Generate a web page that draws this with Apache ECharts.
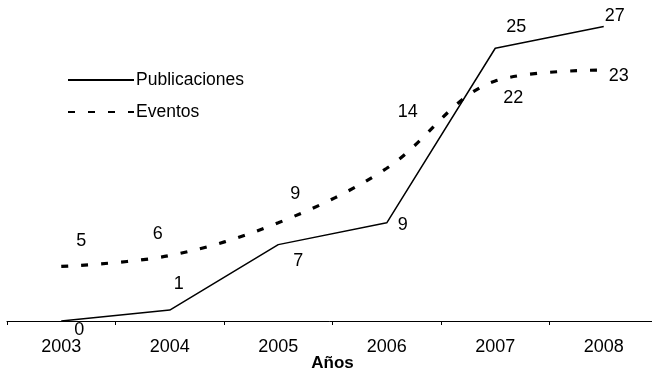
<!DOCTYPE html>
<html>
<head>
<meta charset="utf-8">
<script src="https://cdn.jsdelivr.net/npm/echarts@6/dist/echarts.min.js"></script>
<style>
  html, body { margin: 0; padding: 0; background: #fff; }
  #chart { width: 652px; height: 373px; }
</style>
</head>
<body>
<div id="chart"></div>
<script>
// Yearly counts of publications and events
const years = ['2003', '2004', '2005', '2006', '2007', '2008'];
const publicaciones = [0, 1, 7, 9, 25, 27];
const eventos = [5, 6, 9, 14, 22, 23];

// Per-point label offsets (px, relative to the point)
const pubLabelOffsets = [[18, 9], [9, -26], [20, 16], [16, 2], [21, -21], [11, -10]];
const evLabelOffsets = [[20, -25], [-12, -22], [17, -29], [21, -56], [18, 17], [15, 6]];

const FONT = 'Liberation Sans, Arial, sans-serif';

function withLabels(values, offsets) {
  return values.map((v, i) => ({
    value: v,
    label: { offset: offsets[i] }
  }));
}

const labelStyle = {
  show: true,
  position: 'inside',
  color: '#000',
  fontFamily: FONT,
  fontSize: 18
};

const chart = echarts.init(document.getElementById('chart'), null, { renderer: 'canvas' });

chart.setOption({
  animation: false,
  backgroundColor: '#fff',
  textStyle: { fontFamily: FONT },
  grid: { left: 7, width: 651, top: 15.5, height: 305.5, containLabel: false, outerBoundsMode: 'none' },
  legend: {
    orient: 'vertical',
    left: 67,
    top: 71,
    padding: 0,
    itemWidth: 66,
    itemHeight: 18,
    itemGap: 14,
    textStyle: { fontFamily: FONT, fontSize: 17.5, color: '#000', padding: [0, 0, 0, -3] },
    data: ['Publicaciones', 'Eventos']
  },
  xAxis: {
    type: 'category',
    data: years,
    boundaryGap: true,
    name: 'Años',
    nameLocation: 'middle',
    nameGap: 34,
    nameMoveOverlap: false,
    nameTextStyle: { fontFamily: FONT, fontSize: 17, fontWeight: 'bold', color: '#000' },
    axisLine: { lineStyle: { color: '#000', width: 1 } },
    axisTick: { show: true, interval: 0, length: 4, lineStyle: { color: '#000' } },
    axisLabel: { color: '#000', fontFamily: FONT, fontSize: 18, margin: 17, interval: 0 },
    splitLine: { show: false }
  },
  yAxis: {
    type: 'value',
    min: 0,
    max: 28,
    show: false
  },
  series: [
    {
      name: 'Publicaciones',
      type: 'line',
      data: withLabels(publicaciones, pubLabelOffsets),
      symbol: 'circle',
      symbolSize: 1,
      itemStyle: { color: 'rgba(0,0,0,0)' },
      lineStyle: { color: '#000', width: 1.5 },
      label: labelStyle,
      silent: true,
      z: 3
    },
    {
      name: 'Eventos',
      type: 'line',
      data: withLabels(eventos, evLabelOffsets),
      smooth: 0.35,
      symbol: 'circle',
      symbolSize: 1,
      itemStyle: { color: 'rgba(0,0,0,0)' },
      lineStyle: { color: '#000', width: 3.2, type: [7, 13], cap: 'butt' },
      label: labelStyle,
      silent: true,
      z: 2
    }
  ]
});
</script>
</body>
</html>
